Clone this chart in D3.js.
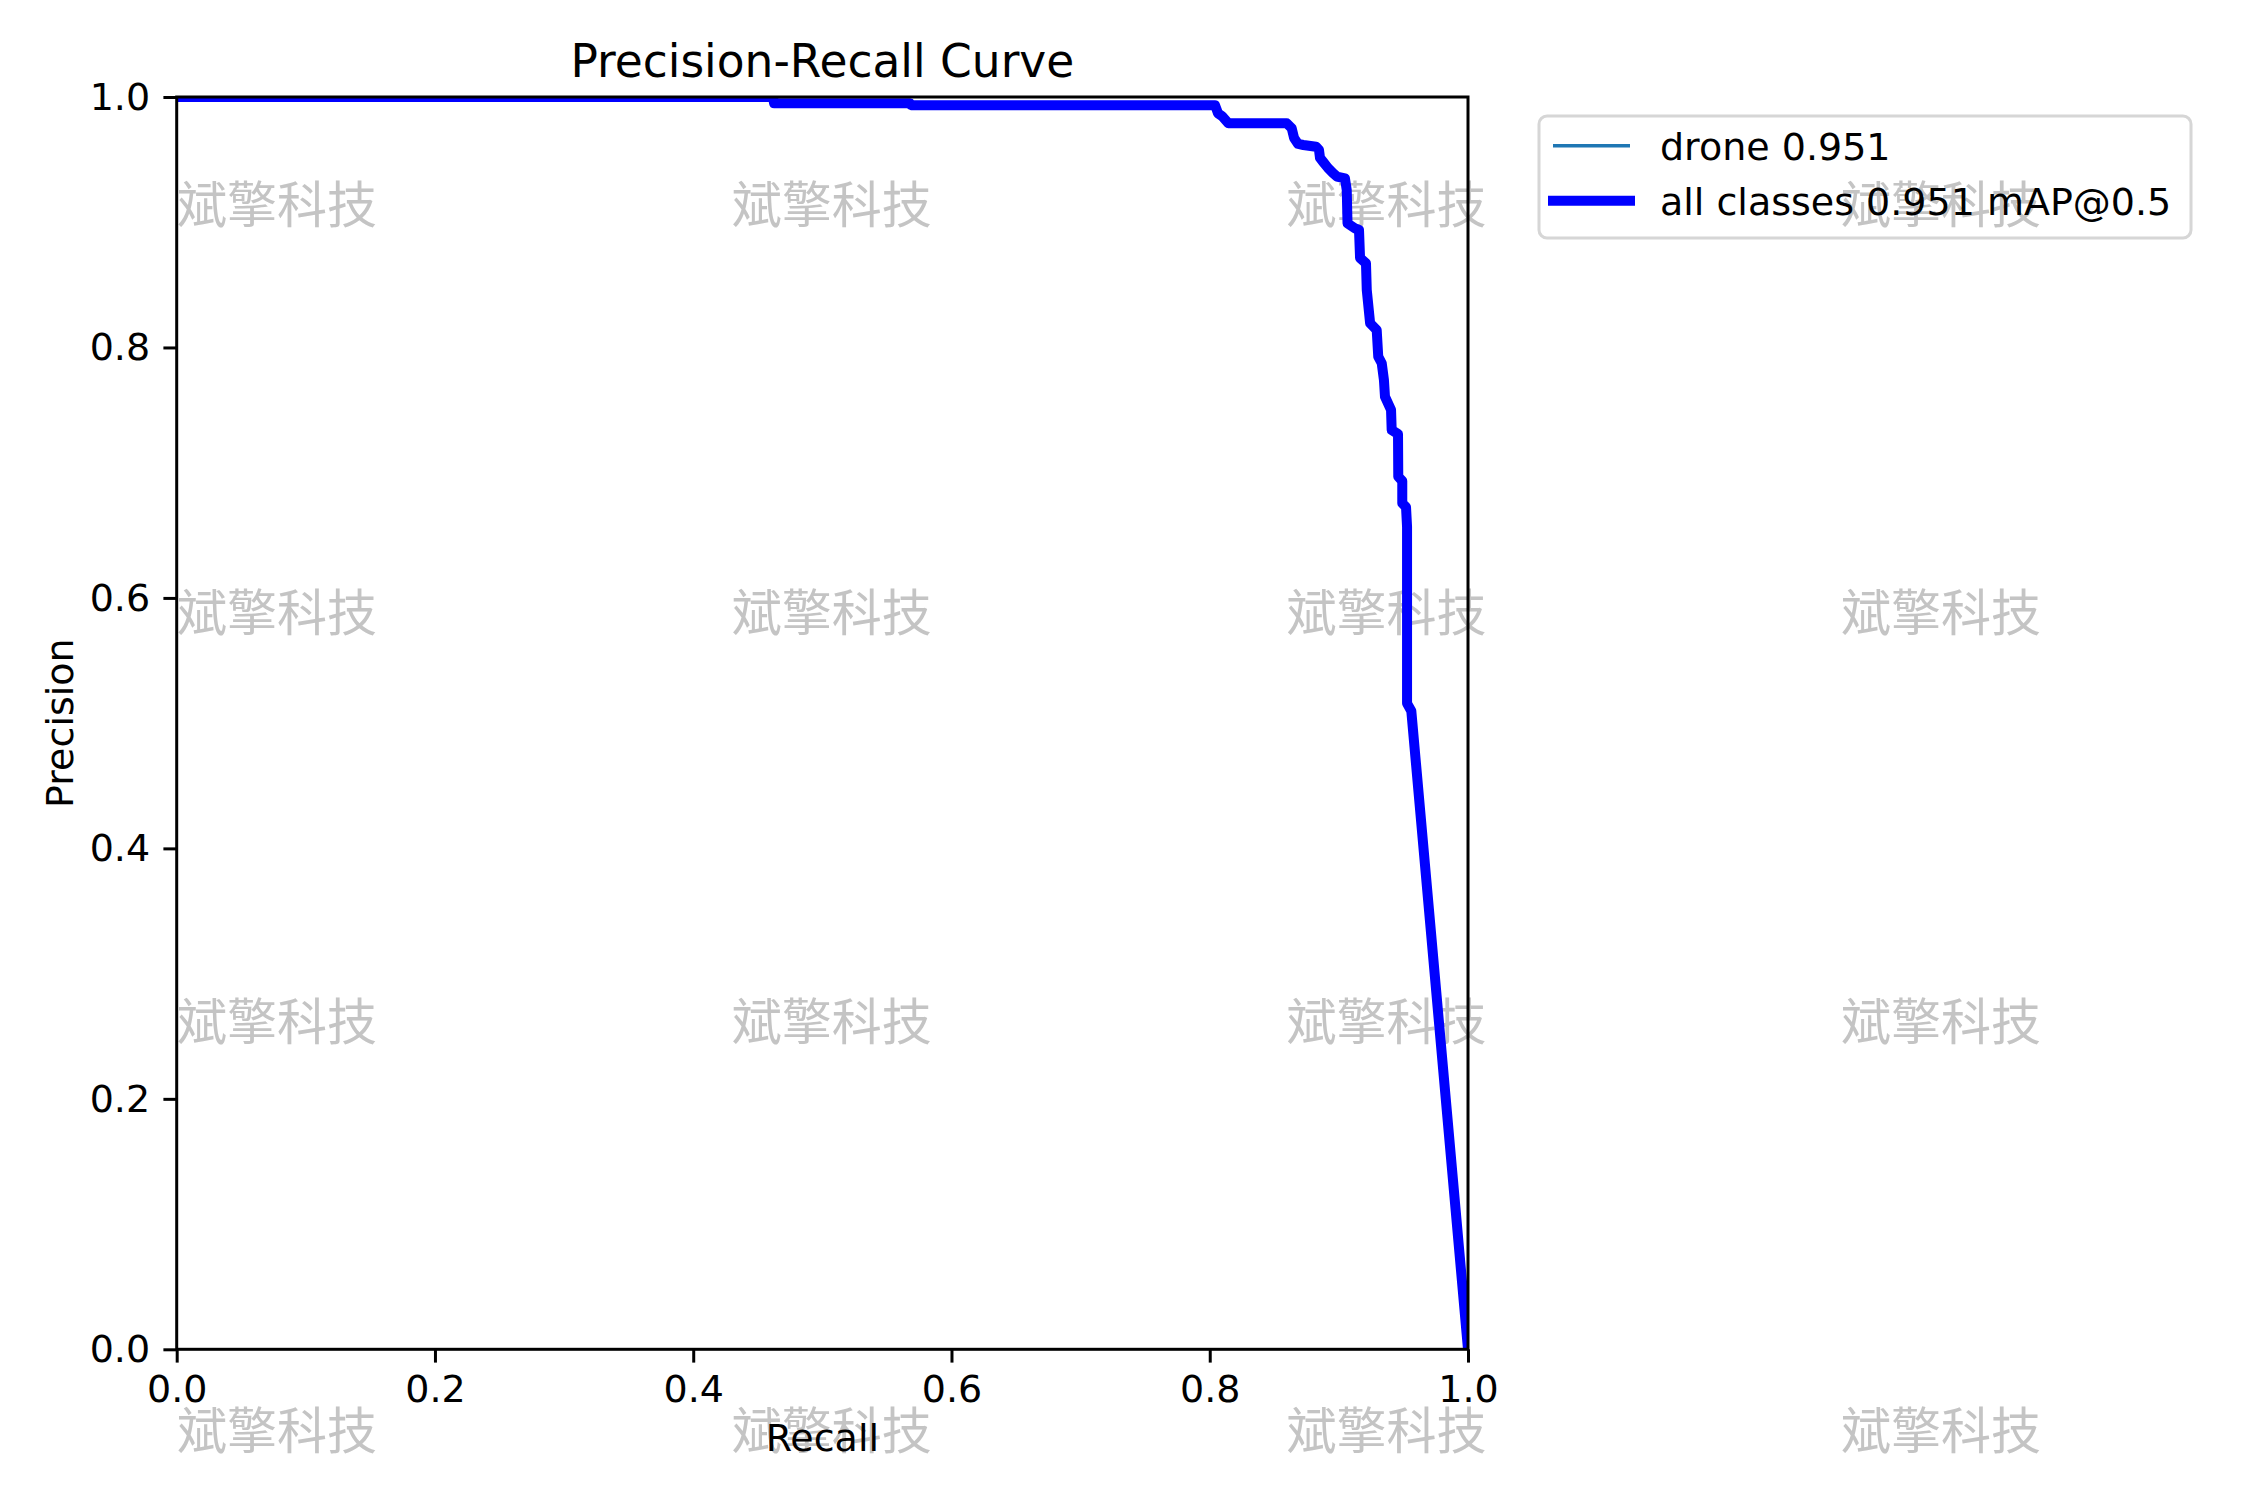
<!DOCTYPE html>
<html>
<head>
<meta charset="utf-8">
<script src="https://cdn.jsdelivr.net/npm/d3@7"></script>
<style>
  body { margin: 0; background: #fff; }
  svg { display: block; }
  text { font-family: "DejaVu Sans", sans-serif; }
</style>
</head>
<body>
<div id="chart"></div>
<script>
// values
const recall = [0, 0.4618, 0.4626, 0.5679, 0.5686, 0.8041, 0.8064, 0.8095, 0.8144, 0.8596,
  0.8635, 0.8653, 0.8684, 0.8725, 0.8823, 0.8846, 0.8854, 0.8879, 0.8916, 0.8954,
  0.8985, 0.9047, 0.9061, 0.9067, 0.9125, 0.9156, 0.9164, 0.9210, 0.9216, 0.9242,
  0.9293, 0.9305, 0.9332, 0.9349, 0.9357, 0.9404, 0.9409, 0.9458, 0.9460, 0.9491,
  0.9491, 0.9520, 0.9528, 0.9528, 0.9561, 1.0];
const precision = [1.0, 1.0, 0.9950, 0.9950, 0.9935, 0.9935, 0.9870, 0.9848, 0.9790, 0.9790,
  0.9750, 0.9673, 0.9625, 0.9617, 0.9603, 0.9577, 0.9513, 0.9481, 0.9433, 0.9393,
  0.9365, 0.9351, 0.9257, 0.8991, 0.8951, 0.8938, 0.8715, 0.8672, 0.8459, 0.8193,
  0.8140, 0.7926, 0.7874, 0.7740, 0.7607, 0.7501, 0.7341, 0.7309, 0.6968, 0.6934,
  0.6756, 0.6726, 0.6569, 0.5158, 0.5097, 0];
const xTicks = [0, 0.2, 0.4, 0.6, 0.8, 1.0];
const yTicks = [0, 0.2, 0.4, 0.6, 0.8, 1.0];
const seriesLabels = ["drone 0.951", "all classes 0.951 mAP@0.5"];
const seriesColors = ["#1f77b4", "#0000ff"];
const watermark = "斌擎科技";

const W = 2250, H = 1500;
const margin = { top: 97, left: 176.7, right: W - 1468, bottom: H - 1349.3 };
const width = W - margin.left - margin.right;
const height = H - margin.top - margin.bottom;

const svg = d3.select('#chart').append('svg')
  .attr('width', W)
  .attr('height', H);

svg.append('rect').attr('width', W).attr('height', H).attr('fill', '#fff');

const x = d3.scaleLinear().domain([0, 1]).range([margin.left, margin.left + width]);
const y = d3.scaleLinear().domain([0, 1]).range([margin.top + height, margin.top]);

// legend box (under the watermark, like the original)
const lg = { x: 1539, y: 116, w: 652, h: 122 };
svg.append('rect')
  .attr('x', lg.x).attr('y', lg.y)
  .attr('width', lg.w).attr('height', lg.h)
  .attr('rx', 8)
  .attr('fill', '#fff').attr('fill-opacity', 0.8)
  .attr('stroke', '#d6d6d6').attr('stroke-width', 3);

// watermark grid
const wmCols = d3.range(4).map(i => 177 + i * 554.7);
const wmRows = d3.range(4).map(i => 200.5 + i * 408.8);
wmRows.forEach(ry => {
  wmCols.forEach(cx => {
    svg.append('text')
      .attr('x', cx).attr('y', ry)
      .attr('dominant-baseline', 'central')
      .style('font-family', '"Noto Sans CJK SC", sans-serif')
      .style('font-size', '50px')
      .attr('fill', '#c4c4c4')
      .text(watermark);
  });
});

// axes
const xAxis = d3.axisBottom(x).tickValues(xTicks).tickFormat(d3.format('.1f'))
  .tickSize(13.3).tickPadding(12).tickSizeOuter(0);
const yAxis = d3.axisLeft(y).tickValues(yTicks).tickFormat(d3.format('.1f'))
  .tickSize(13.3).tickPadding(13.3).tickSizeOuter(0);

const xg = svg.append('g')
  .attr('transform', `translate(0,${margin.top + height})`)
  .call(xAxis);
const yg = svg.append('g')
  .attr('transform', `translate(${margin.left},0)`)
  .call(yAxis);

[xg, yg].forEach(g => {
  g.select('.domain').remove();
  g.selectAll('.tick line').attr('stroke', '#000').attr('stroke-width', 3);
  g.selectAll('.tick text')
    .attr('fill', '#000')
    .style('font-family', '"DejaVu Sans", sans-serif')
    .style('font-size', '38px');
});

// curves, clipped to the plot area
svg.append('clipPath').attr('id', 'plot-clip')
  .append('rect')
  .attr('x', margin.left).attr('y', margin.top)
  .attr('width', width).attr('height', height);

const pts = recall.map((r, i) => [r, precision[i]]);
const line = d3.line().x(d => x(d[0])).y(d => y(d[1]));

const plot = svg.append('g').attr('clip-path', 'url(#plot-clip)');
plot.append('path')
  .attr('d', line(pts))
  .attr('fill', 'none')
  .attr('stroke', seriesColors[0])
  .attr('stroke-width', 3.5)
  .attr('stroke-linejoin', 'round');
plot.append('path')
  .attr('d', line(pts))
  .attr('fill', 'none')
  .attr('stroke', seriesColors[1])
  .attr('stroke-width', 10)
  .attr('stroke-linejoin', 'round')
  .attr('stroke-linecap', 'square');

// spines
svg.append('rect')
  .attr('x', margin.left).attr('y', margin.top)
  .attr('width', width).attr('height', height)
  .attr('fill', 'none')
  .attr('stroke', '#000').attr('stroke-width', 3);

// title and axis labels
svg.append('text')
  .attr('x', margin.left + width / 2).attr('y', 77)
  .attr('text-anchor', 'middle')
  .style('font-size', '45.5px')
  .text('Precision-Recall Curve');

svg.append('text')
  .attr('x', margin.left + width / 2).attr('y', 1451)
  .attr('text-anchor', 'middle')
  .style('font-size', '38px')
  .text('Recall');

svg.append('text')
  .attr('transform', `translate(72.7,${margin.top + height / 2}) rotate(-90)`)
  .attr('text-anchor', 'middle')
  .style('font-size', '38px')
  .text('Precision');

// legend entries
const rowY = [145.7, 200.7];
const rowWidth = [3.5, 10];
seriesLabels.forEach((label, i) => {
  svg.append('line')
    .attr('x1', 1553).attr('x2', 1630)
    .attr('y1', rowY[i]).attr('y2', rowY[i])
    .attr('stroke', seriesColors[i])
    .attr('stroke-width', rowWidth[i])
    .attr('stroke-linecap', i === 1 ? 'square' : 'butt');
  svg.append('text')
    .attr('x', 1660).attr('y', rowY[i] + 14)
    .style('font-size', '38px')
    .text(label);
});
</script>
</body>
</html>
